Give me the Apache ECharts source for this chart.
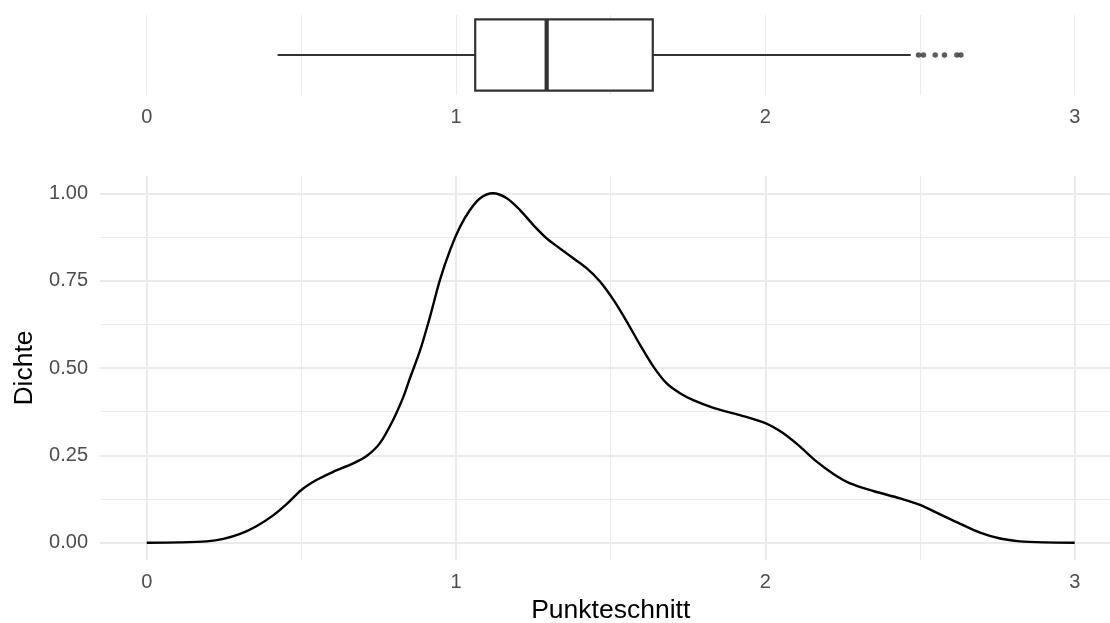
<!DOCTYPE html>
<html>
<head>
<meta charset="utf-8">
<script src="https://cdn.jsdelivr.net/npm/echarts@6/dist/echarts.min.js"></script>
<style>
  html, body { margin: 0; padding: 0; background: #fff; }
  #chart { width: 1110px; height: 623px; }
</style>
</head>
<body>
<div id="chart"></div>
<script>
// density curve
const densX = [0, 0.108, 0.194, 0.248, 0.302, 0.356, 0.41, 0.453, 0.5, 0.55, 0.603, 0.668, 0.711, 0.754, 0.797, 0.83, 0.849, 0.884, 0.916, 0.948, 0.981, 1.013, 1.045, 1.078, 1.119, 1.164, 1.207, 1.25, 1.293, 1.336, 1.379, 1.423, 1.466, 1.509, 1.552, 1.595, 1.638, 1.681, 1.724, 1.767, 1.832, 1.918, 2.0, 2.058, 2.112, 2.166, 2.22, 2.274, 2.349, 2.435, 2.5, 2.565, 2.63, 2.694, 2.759, 2.823, 2.9, 3.0];
const densY = [0, 0.001, 0.004, 0.011, 0.025, 0.048, 0.079, 0.111, 0.151, 0.18, 0.203, 0.227, 0.248, 0.285, 0.352, 0.418, 0.466, 0.551, 0.647, 0.752, 0.838, 0.904, 0.952, 0.986, 1.0, 0.986, 0.952, 0.909, 0.871, 0.842, 0.814, 0.785, 0.747, 0.695, 0.633, 0.566, 0.504, 0.456, 0.428, 0.408, 0.386, 0.365, 0.342, 0.313, 0.275, 0.232, 0.197, 0.17, 0.148, 0.127, 0.108, 0.081, 0.054, 0.029, 0.012, 0.004, 0.001, 0];

// boxplot: lower whisker, Q1, median, Q3, upper whisker
const boxStats = [0.423, 1.062, 1.293, 1.636, 2.47];
const outliers = [2.495, 2.511, 2.549, 2.579, 2.619, 2.632];
const boxCats = ['Punkteschnitt'];

const yTicks = [0, 0.25, 0.5, 0.75, 1];

const FONT = 'Liberation Sans, Arial, sans-serif';
const GRID = '#EBEBEB';
const TXT = '#4D4D4D';

const chart = echarts.init(document.getElementById('chart'));

const option = {
  animation: false,
  textStyle: { fontFamily: FONT },
  grid: [
    // top panel (boxplot)
    { left: 146.7, right: 35.3, top: 15, height: 80, outerBoundsMode: 'none' },
    // horizontal gridlines of the lower panel (full width)
    { left: 100, right: 0, top: 193.3, bottom: 80.3, outerBoundsMode: 'none' },
    // lower panel data area
    { left: 146.7, right: 35.3, top: 175.8, bottom: 62.8, outerBoundsMode: 'none' }
  ],
  xAxis: [
    {
      gridIndex: 0, type: 'value', min: 0, max: 3, interval: 1,
      axisLine: { show: false }, axisTick: { show: false },
      axisLabel: { margin: 12, fontSize: 20, color: TXT, fontFamily: FONT },
      splitLine: { show: true, lineStyle: { color: GRID, width: 1 } },
      minorTick: { show: false, splitNumber: 2 },
      minorSplitLine: { show: true, lineStyle: { color: GRID, width: 1 } }
    },
    {
      gridIndex: 1, type: 'value', min: 0, max: 3, show: false
    },
    {
      gridIndex: 2, type: 'value', min: 0, max: 3, interval: 1,
      axisLine: { show: false }, axisTick: { show: false },
      axisLabel: { margin: 12, fontSize: 20, color: TXT, fontFamily: FONT },
      splitLine: { show: true, lineStyle: { color: GRID, width: 2 } },
      minorTick: { show: false, splitNumber: 2 },
      minorSplitLine: { show: true, lineStyle: { color: GRID, width: 1 } },
      name: 'Punkteschnitt', nameLocation: 'middle', nameGap: 36,
      nameTextStyle: { fontSize: 26.5, color: '#000', fontFamily: FONT }
    }
  ],
  yAxis: [
    {
      gridIndex: 0, type: 'category', data: boxCats,
      axisLine: { show: false }, axisTick: { show: false },
      axisLabel: { show: false }, splitLine: { show: false }
    },
    {
      gridIndex: 1, type: 'value', min: yTicks[0], max: yTicks[yTicks.length - 1], interval: 0.25,
      axisLine: { show: false }, axisTick: { show: false },
      axisLabel: { margin: 12, fontSize: 20, color: TXT, fontFamily: FONT,
        formatter: v => v.toFixed(2) },
      splitLine: { show: true, lineStyle: { color: GRID, width: 2 } },
      minorTick: { show: false, splitNumber: 2 },
      minorSplitLine: { show: true, lineStyle: { color: GRID, width: 1 } },
      name: 'Dichte', nameLocation: 'middle', nameGap: 59, nameRotate: 90,
      nameTextStyle: { fontSize: 26.5, color: '#000', fontFamily: FONT }
    },
    {
      gridIndex: 2, type: 'value', min: -0.05, max: 1.05, show: false,
      splitLine: { show: false }
    }
  ],
  series: [
    {
      type: 'custom',
      xAxisIndex: 0, yAxisIndex: 0,
      encode: { x: [0, 1, 2, 3, 4], y: 5 },
      data: [boxStats.concat([0])],
      renderItem: function (params, api) {
        const yi = api.value(5);
        const pts = [0, 1, 2, 3, 4].map(i => api.coord([api.value(i), yi]));
        const band = api.size([0, 1])[1];
        const h = band * 0.89 / 2;
        const cy = pts[0][1];
        const stroke = { stroke: '#333333', lineWidth: 2.2 };
        return {
          type: 'group',
          children: [
            { type: 'line', shape: { x1: pts[0][0], y1: cy, x2: pts[1][0], y2: cy }, style: stroke },
            { type: 'line', shape: { x1: pts[3][0], y1: cy, x2: pts[4][0], y2: cy }, style: stroke },
            { type: 'rect', shape: { x: pts[1][0], y: cy - h, width: pts[3][0] - pts[1][0], height: 2 * h },
              style: { fill: '#fff', stroke: '#333333', lineWidth: 2.2 } },
            { type: 'line', shape: { x1: pts[2][0], y1: cy - h, x2: pts[2][0], y2: cy + h },
              style: { stroke: '#333333', lineWidth: 4.2 } }
          ]
        };
      }
    },
    {
      type: 'scatter',
      xAxisIndex: 0, yAxisIndex: 0,
      symbolSize: 5.5,
      itemStyle: { color: '#333333' },
      data: outliers.map(v => [v, 0])
    },
    {
      type: 'line',
      xAxisIndex: 2, yAxisIndex: 2,
      smooth: 0.3,
      showSymbol: false,
      lineStyle: { color: '#000', width: 2.4 },
      data: densX.map((x, i) => [x, densY[i]])
    }
  ]
};

chart.setOption(option);
window.addEventListener('resize', () => chart.resize());
</script>
</body>
</html>
